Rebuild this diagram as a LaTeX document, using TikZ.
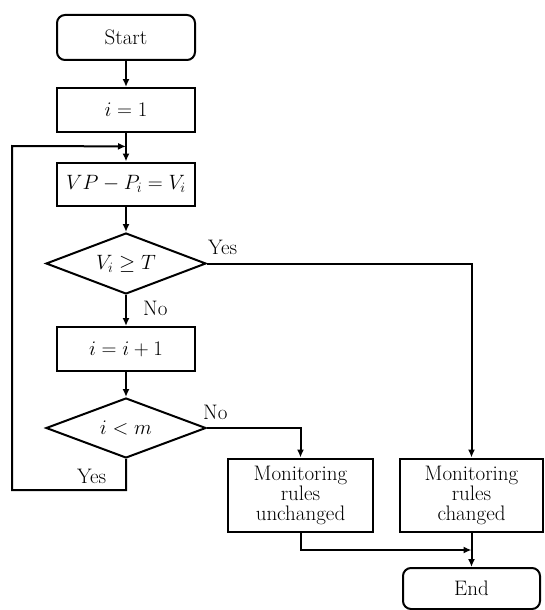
\documentclass[tikz,border=0pt]{standalone}
\usepackage{fontspec}
\usetikzlibrary{shapes.geometric,arrows.meta,calc}
\begin{document}
\begin{tikzpicture}[x=1pt,y=-1pt,
  every node/.style={font=\fontsize{21}{20}\selectfont},
  box/.style={draw,line width=2pt,rectangle,minimum width=138pt,minimum height=44pt,inner sep=0pt,align=center},
  rbox/.style={box,rounded corners=8pt},
  dec/.style={draw,line width=2pt,diamond,aspect=2.6,inner sep=0pt,minimum width=160pt,minimum height=60pt},
  arr/.style={line width=2pt,-{Latex[length=8pt,width=7pt]}},
  lbl/.style={inner sep=0pt}]
\useasboundingbox (0,0) rectangle (545,610);
\node[rbox,minimum height=45pt] (start) at (126,37.5) {Start};
\node[box] (i1) at (126,110) {$i = 1$};
\node[box,minimum height=43pt] (vp) at (126,184) {$VP - P_i = V_i$};
\node[dec,minimum height=61pt] (d1) at (126,263.5) {$V_i \geq T$};
\node[box] (inc) at (126,349) {$i = i + 1$};
\node[dec] (d2) at (126,428) {$i < m$};
\node[box,minimum width=145pt,minimum height=73pt] (unch) at (300.5,495) {Monitoring\\rules\\unchanged};
\node[box,minimum width=143pt,minimum height=73pt] (chg) at (471.5,495) {Monitoring\\rules\\changed};
\node[rbox,minimum width=137pt,minimum height=41pt] (end) at (471.5,588.5) {End};
\coordinate (loopin) at ($(i1.south)!0.47!(vp.north)$);
\coordinate (loopbot) at (126,490);
\coordinate (merge) at (471.5,550);
\draw[arr] (start) -- (i1);
\draw[arr] (i1) -- (vp);
\draw[arr] (vp) -- (d1);
\draw[arr] (d1) -- (inc);
\draw[arr] (inc) -- (d2);
\draw[arr] (d1.east) -| (chg.north);
\draw[arr] (d2.east) -| (unch.north);
\draw[arr] (d2.south) -- (loopbot) -- (12,490) -- (12,146) -- (loopin);
\draw[arr] (unch.south) |- (merge);
\draw[arr] (chg.south) -- (end.north);
\node[lbl,anchor=south west] at (208,255) {Yes};
\node[lbl,anchor=west] at (143,308) {No};
\node[lbl,anchor=south west] at (203,420) {No};
\node[lbl,anchor=west] at (77,476) {Yes};
\end{tikzpicture}
\end{document}
